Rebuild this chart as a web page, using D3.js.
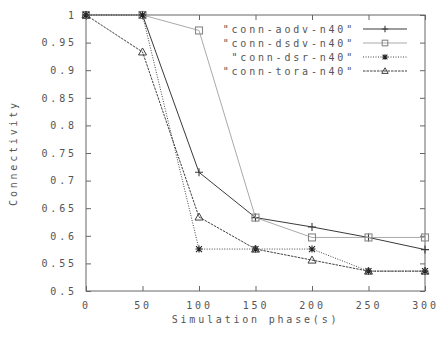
<!DOCTYPE html>
<html>
<head>
<meta charset="utf-8">
<script src="https://cdn.jsdelivr.net/npm/d3@7"></script>
<style>
  body { margin: 0; background: #fff; }
  text { font-family: "DejaVu Sans Mono", monospace; font-size: 10px; fill: #555; letter-spacing: 2.8px; }
</style>
</head>
<body>
<svg id="chart" width="442" height="338"></svg>
<script>
// data
const phases = [0, 50, 100, 150, 200, 250, 300];
const aodv = [1, 1, 0.715, 0.633, 0.616, 0.597, 0.575];
const dsdv = [1, 1, 0.972, 0.633, 0.597, 0.597, 0.597];
const dsr = [1, 1, 0.576, 0.576, 0.576, 0.536, 0.536];
const tora = [1, 0.933, 0.634, 0.576, 0.556, 0.536, 0.536];
const seriesNames = ['"conn-aodv-n40"', '"conn-dsdv-n40"', '"conn-dsr-n40"', '"conn-tora-n40"'];
const xTicks = [0, 50, 100, 150, 200, 250, 300];
const yTicks = [0.5, 0.55, 0.6, 0.65, 0.7, 0.75, 0.8, 0.85, 0.9, 0.95, 1];

const margin = { top: 15, right: 17, bottom: 47, left: 86 };
const width = 442, height = 338;
const tick = 5;

const svg = d3.select('#chart');
const x = d3.scaleLinear().domain([0, 300]).range([margin.left, width - margin.right]);
const y = d3.scaleLinear().domain([0.5, 1]).range([height - margin.bottom, margin.top]);

const styles = [
    { values: aodv, stroke: '#3a3a3a', dash: null, marker: 'plus' },
    { values: dsdv, stroke: '#aaaaaa', dash: null, marker: 'square' },
    { values: dsr, stroke: '#444444', dash: '1,1.5', marker: 'star' },
    { values: tora, stroke: '#404040', dash: '2.5,1', marker: 'triangle' }
];

// k scales the marker (legend markers are a bit smaller)
const drawMarker = (g, kind, cx, cy, color, k = 1) => {
    const r = 4 * k;
    if (kind === 'plus') {
        g.append('path').attr('d', `M${cx - r},${cy}H${cx + r}M${cx},${cy - r}V${cy + r}`)
            .attr('stroke', color).attr('stroke-width', 1.1).attr('fill', 'none');
    } else if (kind === 'square') {
        const h = 3.5 * k;
        g.append('rect').attr('x', cx - h).attr('y', cy - h).attr('width', 2 * h).attr('height', 2 * h)
            .attr('stroke', '#888').attr('stroke-width', 1.1).attr('fill', 'none');
    } else if (kind === 'star') {
        const a = 3.5 * k, b = 3 * k;
        g.append('path').attr('d', `M${cx - a},${cy}H${cx + a}M${cx},${cy - a}V${cy + a}M${cx - b},${cy - b}L${cx + b},${cy + b}M${cx - b},${cy + b}L${cx + b},${cy - b}`)
            .attr('stroke', '#222').attr('stroke-width', 1.1).attr('fill', 'none');
    } else {
        g.append('path').attr('d', `M${cx},${cy - r}L${cx + r},${cy + 0.75 * r}L${cx - r},${cy + 0.75 * r}Z`)
            .attr('stroke', color).attr('stroke-width', 1).attr('fill', 'none');
    }
};

// axes: ticks inward on every side, gnuplot-style
const axisColor = '#666';
const gBottom = svg.append('g').attr('transform', `translate(0,${y(0.5)})`)
    .call(d3.axisBottom(x).tickValues(xTicks).tickSize(-tick).tickPadding(11).tickSizeOuter(0));
const gTop = svg.append('g').attr('transform', `translate(0,${y(1)})`)
    .call(d3.axisTop(x).tickValues(xTicks).tickSize(-tick).tickFormat('').tickSizeOuter(0));
const gLeft = svg.append('g').attr('transform', `translate(${x(0)},0)`)
    .call(d3.axisLeft(y).tickValues(yTicks).tickSize(-tick).tickPadding(12).tickSizeOuter(0)
        .tickFormat(d => d3.format('')(+d.toFixed(2))));
const gRight = svg.append('g').attr('transform', `translate(${x(300)},0)`)
    .call(d3.axisRight(y).tickValues(yTicks).tickSize(-tick).tickFormat('').tickSizeOuter(0));

[gBottom, gTop, gLeft, gRight].forEach(a => {
    a.selectAll('.domain').remove();
    a.selectAll('line').attr('stroke', axisColor);
    a.selectAll('text').attr('font-family', null).attr('font-size', null).attr('fill', null);
});
gLeft.selectAll('text').attr('dx', '2.8px');

svg.append('rect').attr('x', x(0)).attr('y', y(1))
    .attr('width', x(300) - x(0)).attr('height', y(0.5) - y(1))
    .attr('fill', 'none').attr('stroke', axisColor).attr('stroke-width', 1);

svg.append('text').attr('x', (x(0) + x(300)) / 2).attr('y', 323)
    .attr('text-anchor', 'middle').text('Simulation phase(s)');
svg.append('text').attr('transform', `translate(17,${(y(0.5) + y(1)) / 2}) rotate(-90)`)
    .attr('text-anchor', 'middle').text('Connectivity');

// series
const line = d3.line().x((d, i) => x(phases[i])).y(d => y(d));
styles.forEach(s => {
    svg.append('path').datum(s.values).attr('d', line)
        .attr('fill', 'none').attr('stroke', s.stroke).attr('stroke-width', 1)
        .attr('stroke-dasharray', s.dash);
    const gm = svg.append('g');
    s.values.forEach((v, i) => drawMarker(gm, s.marker, x(phases[i]), y(v), s.stroke));
});

// legend
const legend = svg.append('g');
seriesNames.forEach((name, i) => {
    const ly = 29 + i * 14;
    legend.append('text').attr('x', 355).attr('y', ly + 4)
        .attr('text-anchor', 'end').text(name);
    legend.append('line').attr('x1', 363).attr('x2', 407).attr('y1', ly).attr('y2', ly)
        .attr('stroke', styles[i].stroke).attr('stroke-dasharray', styles[i].dash);
    drawMarker(legend, styles[i].marker, 385, ly, styles[i].stroke, 0.8);
});
</script>
</body>
</html>
